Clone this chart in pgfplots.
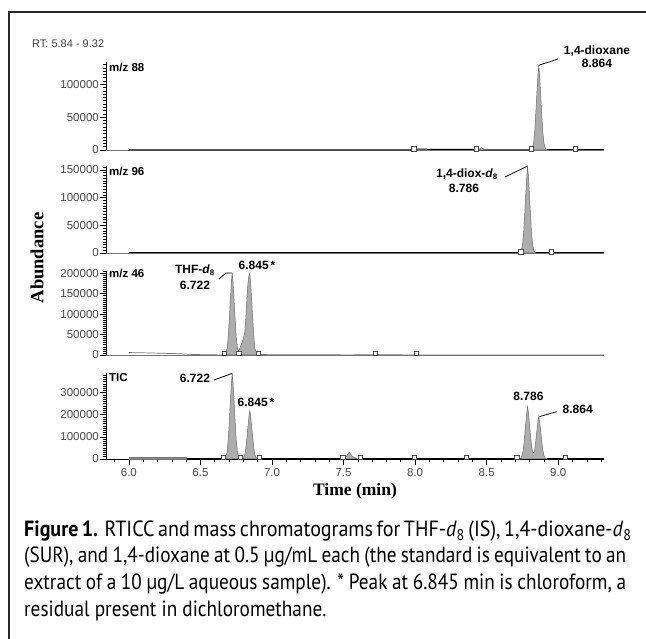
\documentclass[border=0pt]{standalone}
\usepackage{pgfplots}
\pgfplotsset{compat=1.18}
\usepackage{fontspec}
\newfontfamily\arial{Liberation Sans}
\newfontfamily\tnr{Liberation Serif}
\newfontfamily\capfont[FakeStretch=0.875]{PT Sans}
\newfontfamily\capfontA[FakeStretch=0.91]{PT Sans}
\definecolor{pkfill}{gray}{0.68}
\definecolor{pkdraw}{gray}{0.42}
\pgfplotsset{
  panel/.style={
    scale only axis, width=498pt,
    xmin=5.84, xmax=9.32, ymin=0,
    scaled y ticks=false, scaled x ticks=false,
    axis x line=bottom, axis y line=left,
    axis line style={-, black, line width=0.8pt},
    tick align=outside,
    tick style={black, line width=0.6pt},
    major tick length=6pt, minor tick length=3.5pt,
    yticklabel style={font=\arial\fontsize{11.5}{13}\selectfont, text=black!72, inner sep=1pt},
    xticklabel style={font=\arial\fontsize{11.5}{13}\selectfont, text=black!72},
    clip=false,
  },
  base/.style={black, line width=1.0pt},
  peak/.style={fill=pkfill, draw=pkdraw, line width=0.5pt},
  sq/.style={only marks, mark=square*, mark size=2.1pt, mark options={fill=white, draw=black!70, line width=0.5pt}},
}
\begin{document}
\begin{tikzpicture}[x=1pt,y=1pt]
\useasboundingbox (0,0) rectangle (646,638);
% frame
\draw[line width=1.3pt, black!85] (9,-2) -- (9,626) -- (648,626);
\node[anchor=west, inner sep=0, font=\arial\fontsize{11}{13}\selectfont, text=black!75] at (32,594) {RT: 5.84 - 9.32};

% ---------- panel 1 : m/z 88
\begin{axis}[panel, at={(106pt,488pt)}, anchor=south west, height=88pt, ymax=134000,
  ytick={0,50000,100000}, yticklabels={0,50000,100000},
  minor ytick={5000,10000,15000,20000,25000,30000,35000,40000,45000,55000,60000,65000,70000,75000,80000,85000,90000,95000,105000,110000,115000,120000,125000,130000},
  xtick=\empty, x axis line style={black!55}]
\addplot[base] coordinates {(6.0,0)(7.99,0)(7.995,1200)(8.42,900)(8.425,0)(8.806,0)};
\addplot[base] coordinates {(8.922,0)(9.32,0)};
\addplot[peak] coordinates {(8.44,0)(8.465,3500)(8.49,0)} \closedcycle;
\addplot[peak] coordinates {(8.806,0)(8.818,2600)(8.828,10300)(8.836,28400)(8.844,58000)(8.852,90300)(8.859,116100)(8.864,129000)(8.869,116100)(8.876,90300)(8.884,58000)(8.892,28400)(8.900,10300)(8.910,2600)(8.922,0)} \closedcycle;
\addplot[sq] coordinates {(7.99,2000)(8.43,2000)(8.81,2000)(9.12,2000)};
\end{axis}

% ---------- panel 2 : m/z 96
\begin{axis}[panel, at={(106pt,385pt)}, anchor=south west, height=87pt, ymax=157000,
  ytick={0,50000,100000,150000}, yticklabels={0,50000,100000,150000},
  minor ytick={5000,10000,15000,20000,25000,30000,35000,40000,45000,55000,60000,65000,70000,75000,80000,85000,90000,95000,105000,110000,115000,120000,125000,130000,135000,140000,145000,155000},
  xtick=\empty, x axis line style={black!55}]
\addplot[base] coordinates {(6.0,0)(8.728,0)};
\addplot[base] coordinates {(8.844,0)(9.32,0)};
\addplot[peak] coordinates {(8.728,0)(8.740,3100)(8.750,12600)(8.758,34500)(8.766,70700)(8.774,109900)(8.781,141300)(8.786,157000)(8.791,141300)(8.798,109900)(8.806,70700)(8.814,34500)(8.822,12600)(8.832,3100)(8.844,0)} \closedcycle;
\addplot[sq] coordinates {(8.738,2400)(8.95,2400)};
\end{axis}

% ---------- panel 3 : m/z 46
\begin{axis}[panel, at={(106pt,283pt)}, anchor=south west, height=84pt, ymax=205600,
  ytick={0,50000,100000,150000,200000}, yticklabels={0,50000,100000,150000,200000},
  minor ytick={5000,10000,15000,20000,25000,30000,35000,40000,45000,55000,60000,65000,70000,75000,80000,85000,90000,95000,105000,110000,115000,120000,125000,130000,135000,140000,145000,155000,160000,165000,170000,175000,180000,185000,190000,195000,205000},
  xtick=\empty, x axis line style={black!55}]
\addplot[black!55, line width=0.7pt] coordinates {(6.0,6000)(6.08,5500)(6.2,4500)(6.35,3200)(6.45,1200)(6.6,500)(6.667,0)};
\addplot[black!55, line width=0.7pt] coordinates {(6.905,0)(6.93,1500)(7.0,500)(7.3,900)(7.5,300)(7.72,500)(8.0,300)(9.32,0)};
\addplot[peak] coordinates {(6.667,0)(6.676,4000)(6.686,16100)(6.694,44200)(6.702,90500)(6.710,140700)(6.717,180900)(6.722,201000)(6.727,180900)(6.734,140700)(6.742,90500)(6.750,44200)(6.758,18000)(6.767,8000)(6.778,20000)(6.790,30000)(6.800,40000)(6.810,56000)(6.817,90000)(6.825,140000)(6.833,180000)(6.840,196000)(6.845,200000)(6.850,180000)(6.857,140000)(6.865,90000)(6.873,44000)(6.881,16000)(6.891,5000)(6.905,0)} \closedcycle;
\addplot[sq] coordinates {(6.667,3500)(6.767,3500)(6.905,3500)(7.722,3500)(8.01,3500)};
\end{axis}

% ---------- panel 4 : TIC
\begin{axis}[panel, at={(106pt,179pt)}, anchor=south west, height=86pt, ymax=389000,
  ytick={0,100000,200000,300000}, yticklabels={0,100000,200000,300000},
  minor ytick={10000,20000,30000,40000,50000,60000,70000,80000,90000,110000,120000,130000,140000,150000,160000,170000,180000,190000,210000,220000,230000,240000,250000,260000,270000,280000,290000,310000,320000,330000,340000,350000,360000,370000,380000},
  xtick={6.0,6.5,7.0,7.5,8.0,8.5,9.0}, xticklabels={6.0,6.5,7.0,7.5,8.0,8.5,9.0},
  minor xtick={5.9,6.1,6.2,6.3,6.4,6.6,6.7,6.8,6.9,7.1,7.2,7.3,7.4,7.6,7.7,7.8,7.9,8.1,8.2,8.3,8.4,8.6,8.7,8.8,8.9,9.1,9.2,9.3}]
\addplot[base] coordinates {(6.0,0)(6.66,0)};
\addplot[base] coordinates {(6.905,0)(7.49,0)};
\addplot[base] coordinates {(7.60,0)(8.728,0)};
\addplot[base] coordinates {(8.922,0)(9.32,0)};
\addplot[fill=black!45, draw=black!55, line width=0.4pt] coordinates {(6.0,0)(6.0,7000)(6.40,7000)(6.40,0)} \closedcycle;
\addplot[peak] coordinates {(6.660,0)(6.676,7700)(6.686,31000)(6.694,85100)(6.702,174200)(6.710,270900)(6.717,348300)(6.722,387000)(6.727,348300)(6.734,270900)(6.742,174200)(6.750,85100)(6.758,31000)(6.768,8000)(6.776,5000)(6.787,3000)(6.799,4400)(6.809,17500)(6.817,48200)(6.825,98600)(6.833,153300)(6.840,197100)(6.845,219000)(6.850,197100)(6.857,153300)(6.865,98600)(6.873,48200)(6.881,17500)(6.891,4400)(6.905,0)} \closedcycle;
\addplot[peak] coordinates {(7.49,0)(7.52,12000)(7.54,31000)(7.56,12000)(7.60,0)} \closedcycle;
\addplot[peak] coordinates {(8.728,0)(8.740,4700)(8.750,19000)(8.758,52100)(8.766,106700)(8.774,165900)(8.781,213300)(8.786,237000)(8.791,213300)(8.798,165900)(8.806,106700)(8.814,60000)(8.822,32000)(8.828,28000)(8.836,42000)(8.844,86400)(8.852,134400)(8.859,172800)(8.864,192000)(8.869,172800)(8.876,134400)(8.884,86400)(8.892,42200)(8.900,15400)(8.910,3800)(8.922,0)} \closedcycle;
\addplot[sq] coordinates {(6.66,6500)(6.776,6500)(6.911,6500)(7.494,6500)(7.615,6500)(7.994,6500)(8.36,6500)(8.71,6500)(9.048,6500)};
\end{axis}

% ---------- panel labels
\begin{scope}[every node/.style={anchor=west, inner sep=0, font=\arial\bfseries\fontsize{11.5}{13}\selectfont}]
\node at (109,571) {m/z 88};
\node at (109,467) {m/z 96};
\node at (109,364.5) {m/z 46};
\node at (109,260) {TIC};
\end{scope}

% ---------- peak annotations
\begin{scope}[every node/.style={inner sep=0, font=\arial\bfseries\fontsize{12}{14}\selectfont}]
\node at (597,587) {1,4-dioxane};
\node at (597,575) {8.864};
\node at (467,464) {1,4-diox-\textit{d}\textsubscript{8}};
\node at (464,450) {8.786};
\node at (195,368) {THF-\textit{d}\textsubscript{8}};
\node at (195,353) {6.722};
\node at (257,373) {6.845\,*};
\node at (195,259.7) {6.722};
\node at (256,235.3) {6.845\,*};
\node at (528.5,241.3) {8.786};
\node at (577.7,229) {8.864};
\end{scope}
\begin{scope}[black, line width=0.8pt]
\draw (538.7,572.7) -- (558,579);
\draw (505,461) -- (527.6,472);
\draw (219,359) -- (226,365) -- (232.2,365.1);
\draw (214,258) -- (232.2,264.6);
\draw (539.5,221.4) -- (556.7,226.3);
\end{scope}

% ---------- axis titles
\node[rotate=90, inner sep=0, font=\tnr\bfseries\fontsize{18.5}{20}\selectfont] at (37,380) {Abundance};
\node[inner sep=0, font=\tnr\bfseries\fontsize{17.5}{20}\selectfont] at (355,147) {Time (min)};

% ---------- caption
\begin{scope}[every node/.style={anchor=west, inner sep=0, font=\capfont\fontsize{22}{26}\selectfont}]
\node at (24,107) {\capfontA\makebox[602pt][s]{\textbf{Figure 1.} RTICC and mass chromatograms for THF-\textit{d}\textsubscript{8} (IS), 1,4-dioxane-\textit{d}\textsubscript{8}}};
\node at (24,80.5) {\makebox[602pt][s]{(SUR), and 1,4-dioxane at 0.5 µg/mL each (the standard is equivalent to an}};
\node at (24,54) {\makebox[602pt][s]{extract of a 10 µg/L aqueous sample). * Peak at 6.845 min is chloroform, a}};
\node at (24,27.5) {residual present in dichloromethane.};
\end{scope}
\end{tikzpicture}
\end{document}
